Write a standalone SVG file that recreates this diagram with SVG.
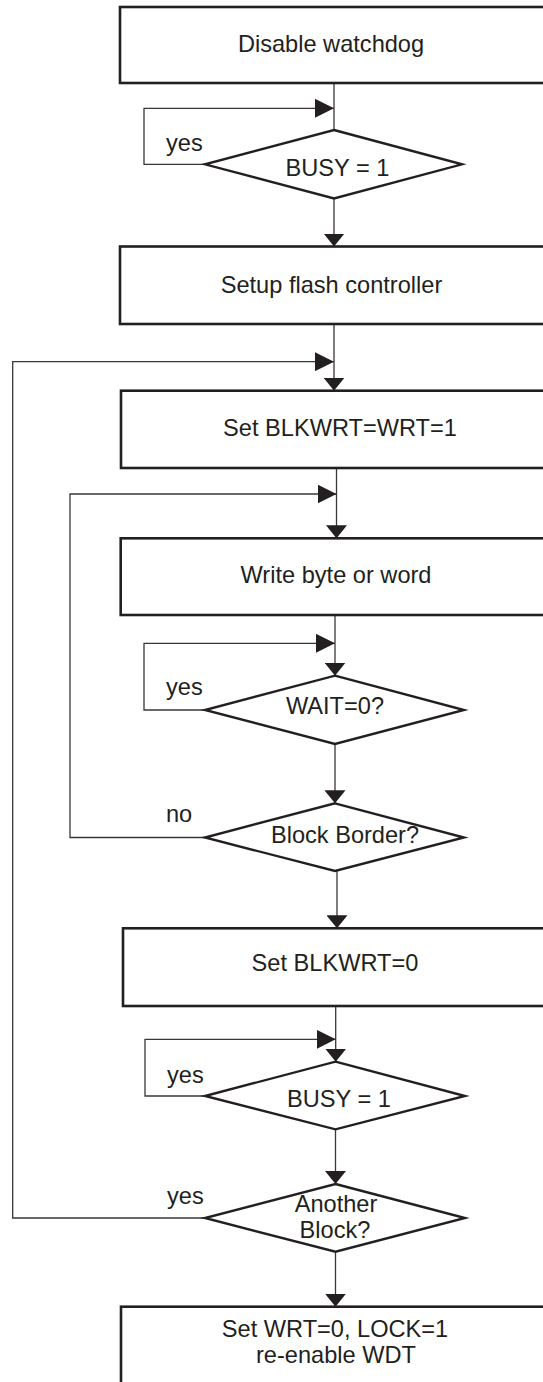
<svg xmlns="http://www.w3.org/2000/svg" width="543" height="1382" viewBox="0 0 543 1382">
<style>
  .box { fill: #ffffff; stroke: #231f20; stroke-width: 2.6; }
  .dia { fill: #ffffff; stroke: #231f20; stroke-width: 2.4; stroke-linejoin: miter; }
  .con { fill: none; stroke: #3a3637; stroke-width: 1.3; }
  .arr { fill: #231f20; stroke: none; }
  text { font-family: "Liberation Sans", Arial, sans-serif; font-size: 23.6px; fill: #231f20; }
  .c { text-anchor: middle; }
</style>
<defs>
  <marker id="down" markerUnits="userSpaceOnUse" markerWidth="13" markerHeight="21" viewBox="0 -10.5 13 21" refX="13" refY="0" orient="auto">
    <path d="M0,-10.5 L13,0 L0,10.5 Z" class="arr"/>
  </marker>
  <marker id="right" markerUnits="userSpaceOnUse" markerWidth="19" markerHeight="19" viewBox="0 -9.5 19 19" refX="19" refY="0" orient="auto">
    <path d="M0,-9.5 L19,0 L0,9.5 Z" class="arr"/>
  </marker>
</defs>

<g id="connectors">
  <line class="con" x1="334" y1="83" x2="334" y2="130"/>
  <polyline class="con" points="205,164.3 144,164.3 144,108.3 334,108.3" marker-end="url(#right)"/>
  <line class="con" x1="334" y1="198.5" x2="334" y2="246.5" marker-end="url(#down)"/>
  <line class="con" x1="334" y1="324" x2="334" y2="390.7" marker-end="url(#down)"/>
  <polyline class="con" points="205,1218 12.7,1218 12.7,361.7 334,361.7" marker-end="url(#right)"/>
  <line class="con" x1="336.5" y1="468" x2="336.5" y2="538.3" marker-end="url(#down)"/>
  <polyline class="con" points="205,837.5 70,837.5 70,494 336.5,494" marker-end="url(#right)"/>
  <line class="con" x1="335" y1="615" x2="335" y2="675.7" marker-end="url(#down)"/>
  <polyline class="con" points="205,710 144,710 144,643.3 335,643.3" marker-end="url(#right)"/>
  <line class="con" x1="335" y1="744" x2="335" y2="803.3" marker-end="url(#down)"/>
  <line class="con" x1="337" y1="871" x2="337" y2="928.3" marker-end="url(#down)"/>
  <line class="con" x1="335.7" y1="1006" x2="335.7" y2="1061.7" marker-end="url(#down)"/>
  <polyline class="con" points="205,1096 145,1096 145,1039.3 335.7,1039.3" marker-end="url(#right)"/>
  <line class="con" x1="335.5" y1="1129.3" x2="335.5" y2="1184" marker-end="url(#down)"/>
  <line class="con" x1="335.5" y1="1251.7" x2="335.5" y2="1306.7" marker-end="url(#down)"/>
</g>

<g id="disable-watchdog">
  <rect class="box" x="120" y="7" width="440" height="76"/>
  <text class="c" x="331" y="52">Disable watchdog</text>
</g>
<g id="busy1">
  <polygon class="dia" points="334,130 462,164.3 334,198.5 205,164.3"/>
  <text class="c" x="337.5" y="175.5">BUSY = 1</text>
  <text x="166" y="150.7">yes</text>
</g>
<g id="setup-flash">
  <rect class="box" x="120" y="246.5" width="440" height="77.5"/>
  <text class="c" x="331.5" y="293">Setup flash controller</text>
</g>
<g id="set-blkwrt-wrt">
  <rect class="box" x="121" y="390.7" width="440" height="77.3"/>
  <text class="c" x="340" y="436">Set BLKWRT=WRT=1</text>
</g>
<g id="write-byte">
  <rect class="box" x="120.7" y="538.3" width="440" height="76.7"/>
  <text class="c" x="336" y="582.7">Write byte or word</text>
</g>
<g id="wait0">
  <polygon class="dia" points="335,675.7 464,710 335,744 205,710"/>
  <text class="c" x="335" y="714">WAIT=0?</text>
  <text x="166" y="695">yes</text>
</g>
<g id="block-border">
  <polygon class="dia" points="335,803.3 464,837.5 335,871 205,837.5"/>
  <text class="c" x="345" y="843.3">Block Border?</text>
  <text x="166" y="821.7">no</text>
</g>
<g id="set-blkwrt0">
  <rect class="box" x="123" y="928.3" width="440" height="77.7"/>
  <text class="c" x="335" y="970.7">Set BLKWRT=0</text>
</g>
<g id="busy2">
  <polygon class="dia" points="335.5,1061.7 465,1096 335.5,1129.3 205,1096"/>
  <text class="c" x="339" y="1106.7">BUSY = 1</text>
  <text x="167" y="1082.7">yes</text>
</g>
<g id="another-block">
  <polygon class="dia" points="335.5,1184 465,1218 335.5,1251.7 205,1218"/>
  <text class="c" x="336" y="1212.3">Another</text>
  <text class="c" x="335" y="1238.3">Block?</text>
  <text x="167" y="1204">yes</text>
</g>
<g id="set-wrt-lock">
  <rect class="box" x="121" y="1306.7" width="440" height="100"/>
  <text class="c" x="335" y="1336.7">Set WRT=0, LOCK=1</text>
  <text class="c" x="336" y="1363.3">re-enable WDT</text>
</g>
</svg>
